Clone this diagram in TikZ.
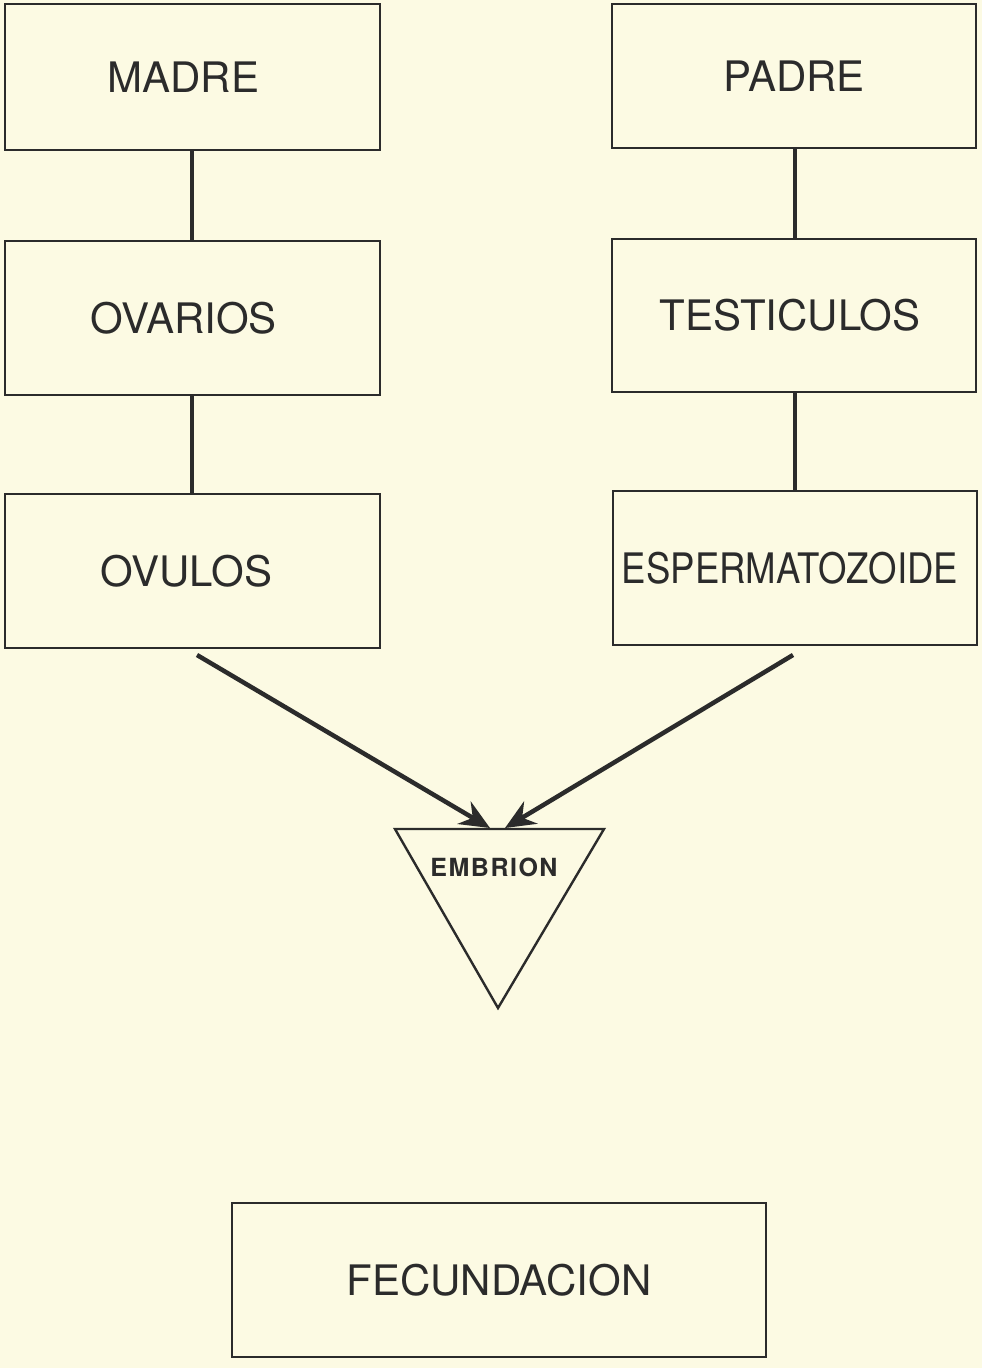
\documentclass[tikz,border=0pt]{standalone}
\usepackage{fontspec}
\usepackage{graphicx}
\setmainfont{TeX Gyre Heros}
\usetikzlibrary{arrows.meta,calc}
\definecolor{paper}{HTML}{FCFAE3}
\definecolor{ink}{HTML}{2B2B2B}
\tikzset{
  box/.style={draw=ink, line width=2.8pt, rectangle, inner sep=0pt, text=ink,
    font=\fontsize{42}{48}\selectfont},
  link/.style={draw=ink, line width=4.5pt},
  arrowline/.style={draw=ink, line width=4.5pt, -{Stealth[length=30pt,width=26pt,inset=10pt]}},
  tri/.style={draw=ink, line width=2.4pt, line join=miter},
}
\begin{document}
\begin{tikzpicture}[x=1pt,y=-1pt]
\fill[paper] (0,0) rectangle (982,1368);
\useasboundingbox (0,0) rectangle (982,1368);
% left column
\node[box, minimum width=375pt, minimum height=146pt] (madre) at (192.5,77) {\hspace*{-18pt}MADRE};
\node[box, minimum width=375pt, minimum height=154pt] (ovarios) at (192.5,318) {\hspace*{-18pt}OVARIOS};
\node[box, minimum width=375pt, minimum height=154pt] (ovulos) at (192.5,571) {\hspace*{-12pt}OVULOS};
% right column
\node[box, minimum width=364pt, minimum height=144pt] (padre) at (794,76) {PADRE};
\node[box, minimum width=364pt, minimum height=153pt] (testiculos) at (794,315.5) {\hspace*{-8pt}TESTICULOS};
\node[box, minimum width=364pt, minimum height=154pt] (esperma) at (795,568) {\hspace*{-10pt}\scalebox{0.87}[1]{ESPERMATOZOIDE}};
% bottom
\node[box, minimum width=534pt, minimum height=154pt] (fecundacion) at (499,1280) {FECUNDACION};
% vertical links
\draw[link] (madre.south -| 192,0) -- (ovarios.north -| 192,0);
\draw[link] (ovarios.south -| 192,0) -- (ovulos.north -| 192,0);
\draw[link] (padre.south -| 795,0) -- (testiculos.north -| 795,0);
\draw[link] (testiculos.south -| 795,0) -- (esperma.north -| 795,0);
% triangle
\coordinate (tl) at (395,829);
\coordinate (tr) at (604,829);
\coordinate (tb) at (498,1008);
\draw[tri] (tl) -- (tr) -- (tb) -- cycle;
\node[text=ink, font=\fontsize{25}{30}\selectfont\bfseries] (embrion) at (494,867) {E\kern1.5ptM\kern1.5ptB\kern1.5ptR\kern1.5ptI\kern1.5ptO\kern1.5ptN};
% arrows
\coordinate (a1s) at (197,655);
\coordinate (a1e) at (490,828);
\coordinate (a2s) at (793,655);
\coordinate (a2e) at (505,828);
\draw[arrowline] (a1s) -- (a1e);
\draw[arrowline] (a2s) -- (a2e);
\end{tikzpicture}
\end{document}
